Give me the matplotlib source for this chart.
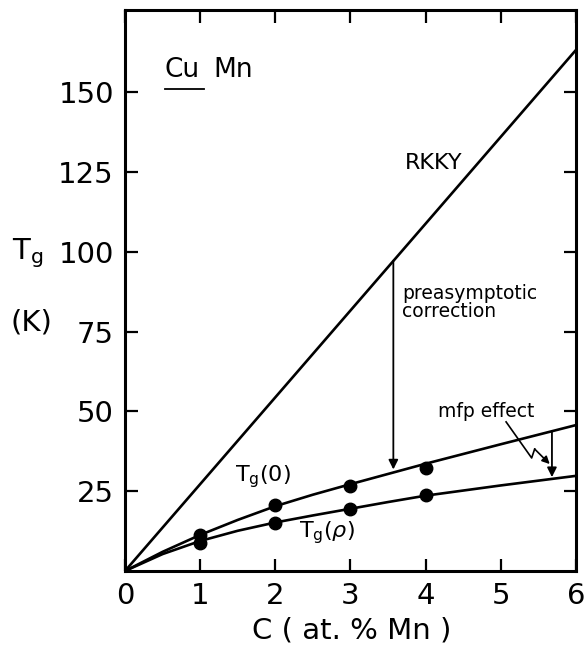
import matplotlib.pyplot as plt
import numpy as np

# Verdier lest av figuren
c_rkky = [0, 6]
tg_rkky = [0, 163.2]

c_curve = [0, 0.5, 1, 1.5, 2, 2.5, 3, 3.5, 4, 5, 6]
tg0_curve = [0, 6.0, 11.3, 16.0, 20.3, 23.9, 27.2, 30.4, 33.6, 39.7, 45.7]
tgrho_curve = [0, 5.3, 9.4, 12.6, 15.2, 17.4, 19.5, 21.6, 23.6, 26.8, 29.8]

c_pts = [1, 2, 3, 4]
tg0_pts = [11.3, 20.7, 26.6, 32.3]
tgrho_pts = [8.8, 15.0, 19.4, 23.8]

x_ticks = [0, 1, 2, 3, 4, 5, 6]
y_ticks = [25, 50, 75, 100, 125, 150]

# piler
pre_x, pre_top, pre_bot = 3.57, 97.2, 31.8
mfp_x, mfp_top, mfp_bot = 5.68, 43.8, 29.4
zig_x = [5.07, 5.41, 5.45, 5.65]
zig_y = [46.7, 35.4, 38.2, 33.5]

lw = 1.9
fig = plt.figure(figsize=(5.88, 6.49), dpi=100)
ax = fig.add_axes([125/588, 78/649, 451/588, 561/649])

ax.plot(c_rkky, tg_rkky, color='black', lw=lw)
ax.plot(c_curve, tg0_curve, color='black', lw=lw)
ax.plot(c_curve, tgrho_curve, color='black', lw=lw)
ax.plot(c_pts, tg0_pts, 'o', color='black', ms=9)
ax.plot(c_pts, tgrho_pts, 'o', color='black', ms=9)

# preasymptotic pil
ax.annotate('', xy=(pre_x, pre_bot), xytext=(pre_x, pre_top),
            arrowprops=dict(arrowstyle='-|>', color='black', lw=1.3,
                            mutation_scale=14, shrinkA=0, shrinkB=0))
# mfp pil
ax.annotate('', xy=(mfp_x, mfp_bot), xytext=(mfp_x, mfp_top),
            arrowprops=dict(arrowstyle='-|>', color='black', lw=1.3,
                            mutation_scale=14, shrinkA=0, shrinkB=0))
ax.plot(zig_x[:-1], zig_y[:-1], color='black', lw=1.2)
ax.annotate('', xy=(zig_x[-1], zig_y[-1]), xytext=(zig_x[-2], zig_y[-2]),
            arrowprops=dict(arrowstyle='-|>', color='black', lw=1.2,
                            mutation_scale=11, shrinkA=0, shrinkB=0))

# tekster
ax.text(4.11, 127.8, 'RKKY', fontsize=16, ha='center', va='center')
ax.text(3.69, 84.2, 'preasymptotic\ncorrection', fontsize=13.5, ha='left',
        va='center', linespacing=0.95)
ax.text(4.8, 49.8, 'mfp effect', fontsize=13.5, ha='center', va='center')
ax.text(1.47, 29.5, r'T$_{\mathrm{g}}$(0)', fontsize=16, ha='left', va='center')
ax.text(2.31, 12.0, r'T$_{\mathrm{g}}$($\rho$)', fontsize=16, ha='left', va='center')
ax.text(0.53, 157, 'Cu', fontsize=19, ha='left', va='center')
ax.text(1.17, 157, 'Mn', fontsize=19, ha='left', va='center')
ax.plot([0.53, 1.05], [151.0, 151.0], color='black', lw=1.3)

fig.text(28/588, 1-253/649, r'T$_{\mathrm{g}}$', fontsize=21, ha='center', va='center')
fig.text(31/588, 1-322/649, '(K)', fontsize=21, ha='center', va='center')
fig.text(352/588, 1-630/649, 'C ( at. % Mn )', fontsize=21, ha='center', va='center')

ax.set_xlim(0, 6)
ax.set_ylim(0, 175.7)
ax.set_xticks(x_ticks)
ax.set_yticks(y_ticks)
ax.tick_params(direction='in', top=True, right=True, length=9, width=1.6,
               labelsize=21, pad=8)
for s in ax.spines.values():
    s.set_linewidth(2.2)

fig.savefig('out.png', dpi=100)
